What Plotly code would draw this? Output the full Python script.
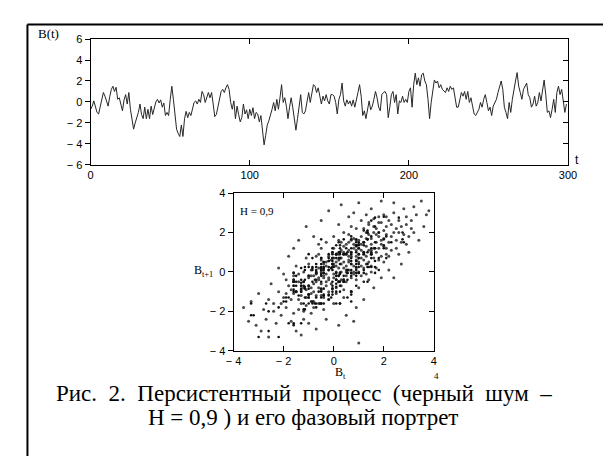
import plotly.graph_objects as go

# ---- data ----
series = [
    -0.7, -0.4, 0.1, -0.6, -1.0, -1.15, -0.4, 0.5, 0.9, 0.55,
    0.1, -0.4, 0.5, 1.2, 1.5, 1.0, 1.4, 0.25, 0.4, -0.4,
    -0.85, 0.2, 0.7, -0.2, 0.9, -0.7, -1.8, -2.6, -2.0, -1.5,
    -1.0, -0.2, -1.2, -1.6, -0.5, -1.6, -0.7, -1.6, -0.4, -1.2,
    -0.7, 0.0, 0.25, -0.1, 0.2, -0.5, -0.1, -1.3, -1.0, -1.3,
    0.2, 1.5, 0.25, -1.6, -2.6, -3.0, -3.3, -2.2, -3.3, -1.6,
    -0.9, -1.5, -1.0, -1.3, -0.7, -0.05, 0.1, -0.2, 0.25, -0.05,
    1.0, 0.7, -0.05, 0.4, 0.9, 0.4, 0.9, -0.2, -1.4, -1.2,
    -0.5, 0.2, 1.0, 1.2, 0.9, 1.35, 1.65, 1.2, -0.05, -0.7,
    0.1, -1.6, -0.4, -1.2, -1.9, -1.5, -0.2, -1.15, -0.75, -1.6,
    -0.7, -1.3, -0.55, -1.6, -1.0, -1.15, -1.9, -1.3, -2.6, -4.1,
    -3.2, -2.2, -1.8, -1.3, -0.7, -0.05, -0.85, 0.25, -0.7, 0.4,
    1.65, -0.05, 0.4, -0.4, -1.6, -0.5, 0.4, -0.5, -1.6, -2.7,
    -1.6, -0.5, 0.7, -1.0, -1.15, -0.85, 0.1, 0.9, -0.05, 0.7,
    1.65, 1.5, 0.9, 1.35, 0.4, -0.2, 0.55, 0.1, 0.7, 0.1,
    -0.2, 0.7, 0.7, 0.55, -0.05, -1.15, 0.25, 0.7, 1.8, 0.1,
    -0.4, 0.2, -0.2, 0.1, -0.4, 0.2, -0.5, 0.1, 0.9, 1.65,
    0.55, -1.3, -0.85, -1.6, -0.5, 0.1, -0.75, -0.4, 0.25, 1.0,
    0.4, -0.5, -0.85, 0.7, 0.9, 1.0, 0.7, -1.5, -0.5, 0.7,
    1.0, -0.05, 0.7, -1.15, 0.1, -0.05, 0.55, -0.05, 0.25, -0.05,
    1.0, 1.35, -0.5, 1.65, 2.75, 1.65, 2.3, 1.5, 2.6, 2.75,
    2.0, 1.65, 0.25, -1.6, -0.05, 1.2, 2.1, 1.8, 2.0, 1.35,
    1.65, 1.2, 1.0, 0.9, 1.35, 1.0, 1.5, 1.2, 1.35, 0.25,
    -0.5, -0.5, 0.1, 0.9, 0.55, 1.0, 0.25, 1.0, -0.05, 0.4,
    -0.4, -1.15, -1.3, -1.0, -0.7, -0.05, -0.5, 0.25, 0.7, -0.05,
    -0.85, -0.5, -1.3, -0.4, -0.05, 0.25, 0.9, 1.35, 2.0, 1.2,
    -0.5, -1.0, -1.6, -0.05, -1.0, 0.25, 1.35, 2.0, 2.8, 1.5,
    0.9, 0.25, 1.2, 1.5, 1.8, 0.7, 0.4, -0.5, -0.2, 0.55,
    -0.4, -0.05, 0.9, 0.1, 1.35, 2.1, 0.7, -1.0, -0.85, -1.5,
    -0.7, 0.25, -1.0, 0.9, 1.5, 0.7, 1.2, 0.1, -1.0, -0.2,
]
t_index = list(range(len(series)))

# phase portrait: B_t vs B_(t+1) of the shown series
phase_bt = series[:-1]
phase_bt1 = series[1:]

# further points of the phase-portrait cloud
cloud_bt = [
    0.1, 0.5, -0.3, 0.8, 1.2, 0.3, -0.6, 0.9, 1.5, 0.0, -0.8, 0.6, 1.1, 0.4, -0.2, 1.7, 0.2, -0.5, 0.7, 1.3,
    -1.0, 0.9, 0.3, 1.8, -0.4, 0.5, 1.0, -0.1, 1.4, 0.6, -0.7, 0.2, 1.6, 0.8, -0.3, 1.2, 0.0, -0.9, 0.4, 1.9,
    0.7, -0.6, 1.1, 0.3, -0.2, 1.5, 0.9, -1.1, 0.5, 2.0, 0.1, -0.5, 1.3, 0.6, -0.8, 1.0, 0.2, 1.7, -0.4, 0.8,
    1.4, -0.1, 0.4, 1.1, -0.7, 0.9, 0.0, 1.6, -0.3, 0.5, 1.2, -1.2, 0.3, 1.9, 0.7, -0.6, 1.0, 0.1, 1.5, -0.9,
    0.6, 0.2, 1.3, -0.2, 0.8, 1.8, -0.5, 0.4, 1.1, 0.0,
    -1.5, -1.8, -1.3, -2.0, -1.6, -1.2, -1.9, -1.4, -2.2, -1.7, -1.1, -2.4, -1.5, -1.3, -2.1, -1.6, -1.9, -1.2, -2.6, -1.4,
    2.2, 2.5, 2.1, 2.8, 2.3, 2.6, 2.0, 2.9, 2.4, 2.2, 3.1, 2.7, 2.1, 3.3, 2.5, 2.3, 2.8, 2.0, 3.0, 2.6,
    0.3, 0.9, -0.4, 1.2, 0.6, -0.8, 1.5, 0.1, 0.8, -0.2, 1.0, 0.5, 1.7, -0.6, 0.4, 1.3, -1.0, 0.7, 0.2, 1.4,
    -0.3, 0.9, 1.6, 0.0, -0.7, 1.1, 0.5, 1.8, -0.5, 0.3, 1.2, 0.8, -0.1, 1.5, -0.9, 0.6, 1.0, 0.2, -0.4, 1.9,
    0.4, 1.3, -0.2, 0.7, 1.6, -0.6, 0.1, 1.1, 0.5, -1.3, 0.9, 1.4, -0.3, 0.6, 2.0, 0.0, -0.8, 1.2, 0.3, 1.7,
    -3.4, -3.1, -2.8, -3.0, -2.7, -2.5, -2.9, -2.3, -2.6, -3.6, -2.2, -1.8, -1.4, -1.1, -0.8, -0.5, -1.6, -0.2, 0.3, 0.6,
    1.0, 1.5, 0.8, 1.9, 2.4, 3.5, 3.7, 3.2, 3.6, 3.4, 3.0, 2.7, 2.4, 3.8, 2.9, 1.6, 1.2, 0.9, 0.5, 0.2,
    0.8, 1.0, -0.3, -0.7, -1.0, -1.5, -0.4, -0.9, 1.9, 2.2, -2.0, -2.4, -3.3, -1.7, -1.3, 0.0, -0.6, 1.4, 2.6, 3.1,
    -1.0, -0.7, -1.2, -0.5, -0.9, -1.4, -0.3, -0.6, -1.1, 0.0, 0.4, 0.7, 0.2, 1.1, 0.9, 1.3, 1.6, 1.8, 2.1, 1.4,
    1.8, 2.1, 1.5, 1.9, 1.7, 1.3, 1.0, 0.7, 0.4, 0.1, -0.2, -0.5, -0.8, -1.1, -1.4, -1.7, -1.9, -2.1, -1.6, -1.2,
    2.3, 2.5, 2.7, 2.2, 2.0, 2.4, 1.8, 3.2, 2.9, 2.1,
]
cloud_bt1 = [
    0.3, 0.9, -0.1, 1.2, 0.6, -0.4, 0.2, 1.6, 1.1, 0.7, -0.6, 0.1, 1.4, 0.5, 0.8, 1.9, -0.2, -0.9, 0.4, 2.0,
    -0.3, 0.2, 1.1, 1.2, 0.4, -0.5, 0.9, -0.6, 0.5, 1.5, -1.2, 0.6, 2.3, -0.1, 0.5, 1.0, -0.3, 0.1, 1.3, 1.6,
    0.8, -0.4, 0.3, 0.0, -1.0, 1.7, 1.1, -0.9, 0.3, 2.1, -0.8, 0.6, 0.8, 1.9, -1.5, 0.0, 0.9, 1.0, -0.2, 1.4,
    2.4, 0.2, -0.9, 1.8, -0.1, 0.6, 1.2, 0.7, -0.7, 0.1, 1.5, -0.5, 0.7, 2.5, -0.3, 0.9, 1.2, 0.0, 0.3, -1.1,
    0.6, 1.6, 1.3, -0.4, 0.0, 2.0, -0.6, 0.9, -0.2, 0.4,
    -1.0, -0.7, -1.6, -1.3, -0.2, -2.0, -1.8, -0.5, -1.0, -1.4, -1.3, -1.6, 0.3, -0.9, -2.2, -1.1, -0.4, -0.8, -1.4, -1.9,
    1.5, 2.2, 2.8, 1.9, 1.1, 2.6, 1.3, 2.4, 3.0, 0.8, 2.2, 1.5, 1.9, 2.9, 1.2, 2.4, 3.2, 0.5, 1.8, 2.0,
    0.4, 0.8, -0.3, 0.9, 1.1, -0.2, 1.4, 0.5, 1.7, 0.1, 0.5, -0.2, 1.5, -0.8, 0.2, 1.7, -0.7, 1.0, -0.5, 1.1,
    0.3, 1.3, 1.2, -0.1, -0.5, 0.7, 1.4, 1.8, 0.0, -0.7, 2.2, 0.3, 0.6, 0.9, -0.8, 0.8, 1.6, 0.2, -1.3, 1.4,
    1.0, 0.4, -0.3, 1.6, 2.0, -0.3, 0.9, 1.1, 0.0, -1.2, -0.4, 1.9, -0.5, 0.5, 1.7, 0.3, -1.0, 0.2, 1.5, 2.2,
    -2.5, -2.7, -1.9, -1.1, -2.4, -0.6, -3.0, -2.6, -3.3, -1.8, 0.2, 0.8, 1.6, 2.3, 1.8, 2.6, 1.2, 3.1, 3.4, 2.8,
    3.5, 3.2, 3.0, 3.6, 3.5, 3.6, 2.9, 3.3, 2.3, 1.6, 1.0, 0.4, -0.3, 3.1, 2.8, -0.8, -1.4, -1.8, -2.2, -2.7,
    -2.5, -3.6, -2.4, -2.9, -2.6, -3.0, -1.9, -2.1, -0.3, 0.1, -0.1, -2.0, -1.5, -2.5, -3.2, -1.6, -1.6, -0.4, 0.9, 2.6,
    0.4, 0.8, 0.0, 1.2, -0.2, -0.1, 1.5, 1.4, 0.7, 1.8, 2.0, 2.3, 2.4, 2.6, 2.2, 2.9, 2.7, 2.5, 2.3, 2.5,
    0.6, 0.9, 0.0, 0.8, 0.2, -0.1, -0.8, -1.0, -1.3, -1.1, -1.4, -1.2, -1.8, -1.7, -1.4, -0.9, -1.1, -1.6, -2.1, -2.4,
    1.8, 1.6, 2.3, 2.6, 2.9, 2.0, 2.8, 2.0, 1.4, 1.2,
]

ts_xticks = [0, 100, 200, 300]
ts_yticks = [-6, -4, -2, 0, 2, 4, 6]
ph_ticks = [-4, -2, 0, 2, 4]

caption_line1_words = ["Рис.", "2.", "Персистентный", "процесс", "(черный", "шум", "–"]
caption_line2 = "H = 0,9 ) и его фазовый портрет"


def tick_text(v):
    return ("\u2212 " + str(abs(v))) if v < 0 else str(v)


W, H = 613, 462


def fx(p):
    return p / W


def fy(p):
    return 1 - p / H


tick_font = dict(family="Liberation Sans, Arial, sans-serif", size=11, color="black")
serif = "Liberation Serif, Times New Roman, serif"

fig = go.Figure()
fig.add_trace(go.Scatter(x=t_index, y=series, mode="lines",
                         line=dict(color="#262626", width=1),
                         xaxis="x", yaxis="y", hoverinfo="skip"))
fig.add_trace(go.Scatter(x=cloud_bt, y=cloud_bt1, mode="markers",
                         marker=dict(size=3, color="#4a4a4a", line=dict(width=0)),
                         xaxis="x2", yaxis="y2", hoverinfo="skip"))
fig.add_trace(go.Scatter(x=phase_bt, y=phase_bt1, mode="markers",
                         marker=dict(size=2.6, color="#111111", line=dict(width=0)),
                         xaxis="x2", yaxis="y2", hoverinfo="skip"))
# carriers for the mirrored tick axes
fig.add_trace(go.Scatter(x=[None], y=[None], xaxis="x3", yaxis="y3", hoverinfo="skip"))
fig.add_trace(go.Scatter(x=[None], y=[None], xaxis="x4", yaxis="y4", hoverinfo="skip"))

ts_dom_x = [fx(85), fx(576)]
ts_dom_y = [fy(163), fy(34)]
ph_dom_x = [fx(232), fx(438)]
ph_dom_y = [fy(354), fy(192)]

common = dict(showgrid=False, zeroline=False, ticklen=5, tickwidth=1,
              tickcolor="black", tickfont=tick_font, fixedrange=True)

fig.update_layout(
    width=W, height=H, margin=dict(l=0, r=0, t=0, b=0),
    paper_bgcolor="white", plot_bgcolor="white", showlegend=False,
    hovermode=False,
    xaxis=dict(domain=ts_dom_x, range=[0, 300], anchor="y", ticks="inside",
               tickvals=ts_xticks, ticktext=[str(v) for v in ts_xticks],
               showline=True, linecolor="black", linewidth=1, mirror=True, **common),
    yaxis=dict(domain=ts_dom_y, range=[-6, 6], anchor="x", ticks="outside",
               tickvals=ts_yticks, ticktext=[tick_text(v) for v in ts_yticks],
               showline=True, linecolor="black", linewidth=1, mirror=True, **common),
    xaxis3=dict(overlaying="x", anchor="y3", side="top", range=[0, 300], ticks="inside",
                tickvals=[100, 200], showticklabels=False, showline=False, **common),
    yaxis3=dict(overlaying="y", anchor="x3", side="right", range=[-6, 6], ticks="inside",
                tickvals=[-4, -2, 0, 2, 4], showticklabels=False, showline=False, **common),
    xaxis2=dict(domain=ph_dom_x, range=[-4, 4], anchor="y2", ticks="inside",
                tickvals=ph_ticks, ticktext=[tick_text(v) for v in ph_ticks],
                showline=True, linecolor="black", linewidth=1, mirror=True, **common),
    yaxis2=dict(domain=ph_dom_y, range=[-4, 4], anchor="x2", ticks="outside",
                tickvals=ph_ticks, ticktext=[tick_text(v) for v in ph_ticks],
                showline=True, linecolor="black", linewidth=1, mirror=True, **common),
    xaxis4=dict(overlaying="x2", anchor="y4", side="top", range=[-4, 4], ticks="inside",
                tickvals=[-2, 0, 2], showticklabels=False, showline=False, **common),
    yaxis4=dict(overlaying="y2", anchor="x4", side="right", range=[-4, 4], ticks="inside",
                tickvals=[-2, 0, 2], showticklabels=False, showline=False, **common),
    shapes=[
        dict(type="line", xref="paper", yref="paper", x0=fx(20), x1=fx(20), y0=fy(19), y1=0,
             line=dict(color="black", width=2)),
        dict(type="line", xref="paper", yref="paper", x0=fx(20), x1=fx(612), y0=fy(19), y1=fy(19),
             line=dict(color="black", width=2)),
    ],
)

gap = " \u00a0"
ann = [
    dict(text="B(t)", x=fx(29), y=fy(28), xanchor="left", yanchor="middle",
         font=dict(family=serif, size=13, color="black")),
    dict(text="t", x=fx(581), y=fy(158), xanchor="left", yanchor="middle",
         font=dict(family="Liberation Sans, Arial, sans-serif", size=12, color="black")),
    dict(text="H = 0,9", x=fx(237), y=fy(210), xanchor="left", yanchor="middle",
         font=dict(family=serif, size=11, color="black")),
    dict(text="B<sub>t+1</sub>", x=fx(189), y=fy(272), xanchor="left", yanchor="middle",
         font=dict(family=serif, size=12, color="black")),
    dict(text="B<sub>t</sub>", x=fx(334), y=fy(377), xanchor="left", yanchor="middle",
         font=dict(family=serif, size=12, color="black")),
    dict(text="4", x=fx(441), y=fy(380), xanchor="center", yanchor="middle",
         font=dict(family=serif, size=9, color="black")),
    dict(text=gap.join(caption_line1_words), x=fx(304), y=fy(398),
         xanchor="center", yanchor="middle",
         font=dict(family=serif, size=23, color="black")),
    dict(text=caption_line2, x=fx(303), y=fy(422),
         xanchor="center", yanchor="middle",
         font=dict(family=serif, size=23, color="black")),
]
for a in ann:
    a.update(xref="paper", yref="paper", showarrow=False)
fig.update_layout(annotations=ann)

fig.write_html(
    "out.html",
    config={"displayModeBar": False, "staticPlot": True},
    post_script="document.body.style.margin='0';document.body.style.overflow='hidden';",
)
